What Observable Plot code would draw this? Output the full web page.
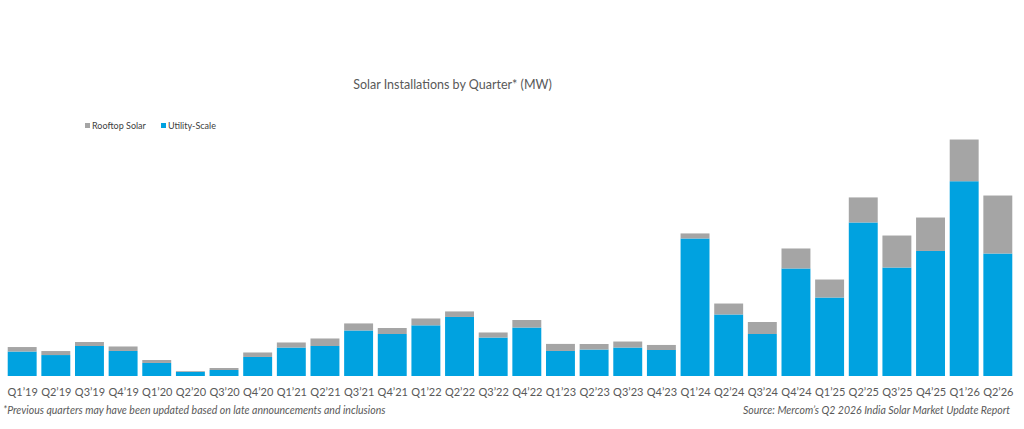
<!DOCTYPE html>
<html><head><meta charset="utf-8">
<script src="https://cdn.jsdelivr.net/npm/d3@7"></script>
<script src="https://cdn.jsdelivr.net/npm/@observablehq/plot@0.6"></script>
<style>
body{margin:0;background:#fff;font-family:Lato,"Open Sans",sans-serif;}
#wrap{position:relative;width:1024px;height:429px;overflow:hidden;background:#fff;}
#title{position:absolute;left:0;width:905px;top:77px;text-align:center;font-size:12.5px;color:#595959;}
#legend{position:absolute;left:85px;top:120px;font-size:9px;color:#404040;display:flex;gap:15px;}
#legend span.sw{display:inline-block;width:5px;height:5px;margin-right:2px;vertical-align:1px;}
#chart{position:absolute;left:0;top:135px;}
.foot{position:absolute;top:404px;font-size:10.5px;font-style:italic;color:#595959;}
</style></head>
<body><div id="wrap">
<div id="title"></div>
<div id="legend"></div>
<div id="chart"></div>
<div class="foot" id="note" style="left:3px"></div>
<div class="foot" id="src" style="right:14px"></div>
</div>
<script>
const quarters = ["Q1’19","Q2’19","Q3’19","Q4’19","Q1’20","Q2’20","Q3’20","Q4’20","Q1’21","Q2’21","Q3’21","Q4’21","Q1’22","Q2’22","Q3’22","Q4’22","Q1’23","Q2’23","Q3’23","Q4’23","Q1’24","Q2’24","Q3’24","Q4’24","Q1’25","Q2’25","Q3’25","Q4’25","Q1’26","Q2’26"];
const utility = [2570,2200,3150,2630,1370,430,630,2000,2990,3150,4780,4410,5320,6200,4040,5090,2630,2780,2990,2730,14440,6460,4410,11290,8240,16120,11390,13130,20450,12860];
const rooftop = [470,420,420,470,310,80,210,470,530,790,740,630,720,580,530,790,740,580,630,530,530,1150,1260,2100,1890,2630,3360,3510,4380,6090];
const seriesNames = ["Rooftop Solar","Utility-Scale"];
const seriesColors = ["#a5a5a5","#00a2e0"];
const titleText = "Solar Installations by Quarter* (MW)";
const noteText = "*Previous quarters may have been updated based on late announcements and inclusions";
const sourceText = "Source: Mercom’s Q2 2026 India Solar Market Update Report";

const data = [];
quarters.forEach((q,i)=>data.push({quarter:q, series:"Utility-Scale", value:utility[i]}));
quarters.forEach((q,i)=>data.push({quarter:q, series:"Rooftop Solar", value:rooftop[i]}));

document.getElementById("title").textContent = titleText;
document.getElementById("note").textContent = noteText;
document.getElementById("src").textContent = sourceText;
const leg = document.getElementById("legend");
seriesNames.forEach((s,i)=>{
  const d = document.createElement("div");
  d.innerHTML = `<span class="sw" style="background:${seriesColors[i]}"></span>${s}`;
  leg.appendChild(d);
});

const chart = Plot.plot({
  width: 1024,
  height: 270,
  marginTop: 0,
  marginBottom: 29,
  marginLeft: 3,
  marginRight: 7,
  style: {fontFamily: "Lato, 'Open Sans', sans-serif", fontSize: "11px", color: "#595959", background: "#fff"},
  x: {domain: quarters, paddingInner: 0.14, paddingOuter: 0.14, round: false, label: null, tickSize: 0, tickPadding: 12},
  y: {domain: [0, 25305], axis: null},
  color: {domain: seriesNames, range: seriesColors},
  marks: [
    Plot.barY(data, {x: "quarter", y: "value", fill: "series"})
  ]
});
document.getElementById("chart").appendChild(chart);
</script>
</body></html>
